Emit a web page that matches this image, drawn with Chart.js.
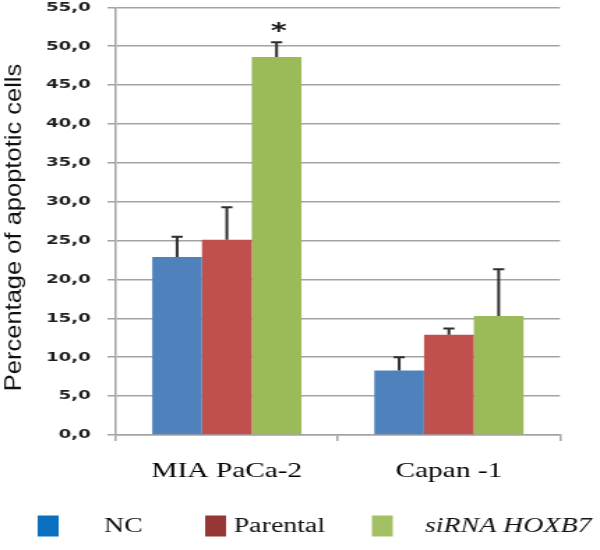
<!DOCTYPE html>
<html>
<head>
<meta charset="utf-8">
<script src="https://cdn.jsdelivr.net/npm/chart.js@4.4.1/dist/chart.umd.min.js"></script>
<style>
  html, body { margin: 0; padding: 0; background: #ffffff; }
  canvas { display: block; }
</style>
</head>
<body>
<canvas id="c" width="430" height="550" style="width:600px;height:550px"></canvas>
<script>
// ---------- data ----------
const categories = ['MIA PaCa-2', 'Capan -1'];
const seriesNames = ['NC', 'Parental', 'siRNA HOXB7'];
const ncValues = [22.9, 8.3];
const ncErrors = [2.6, 1.7];
const parentalValues = [25.1, 12.9];
const parentalErrors = [4.2, 0.8];
const sirnaValues = [48.6, 15.3];
const sirnaErrors = [1.9, 6.0];
const sirnaMarks = ['*', ''];
const yMin = 0;
const yMax = 55;
const yStep = 5;
const yTitle = 'Percentage of apoptotic cells';

// ---------- styles / layout ----------
const STRETCH = 600 / 430;          // the reference is horizontally stretched
const barColors = ['#4f81bd', '#c0504d', '#9bbb59'];
const legendColors = ['#0b6fc0', '#953735', '#a3c164'];
const gridColor = '#a3a3a3';
const errColor = '#2e2e2e';
const legendBoxX = [27, 147, 266.5];
const legendTextX = [74.5, 167.5, 304.5];
const legendCenterY = 526;
const legendItalic = [false, false, true];

const errorBarPlugin = {
  id: 'errorBars',
  afterDatasetsDraw(chart) {
    const ctx = chart.ctx;
    const ys = chart.scales.y;
    chart.data.datasets.forEach((ds, di) => {
      const meta = chart.getDatasetMeta(di);
      meta.data.forEach((bar, i) => {
        const err = ds.errors[i];
        const top = ys.getPixelForValue(ds.data[i] + err);
        ctx.save();
        ctx.strokeStyle = errColor;
        ctx.lineWidth = 2;
        ctx.beginPath();
        ctx.moveTo(bar.x, bar.y);
        ctx.lineTo(bar.x, top);
        ctx.moveTo(bar.x - 4, top);
        ctx.lineTo(bar.x + 4, top);
        ctx.stroke();
        if (ds.marks && ds.marks[i]) {
          ctx.fillStyle = '#1a1a1a';
          ctx.font = 'bold 22px "DejaVu Sans"';
          ctx.textAlign = 'center';
          ctx.textBaseline = 'alphabetic';
          const m = ctx.measureText(ds.marks[i]);
          const off = (m.actualBoundingBoxAscent - m.actualBoundingBoxDescent) / 2;
          ctx.fillText(ds.marks[i], bar.x + 1.5, top - 15 + off);
        }
        ctx.restore();
      });
    });
  }
};

const decorPlugin = {
  id: 'decor',
  afterDraw(chart) {
    const ctx = chart.ctx;
    // y-axis title (un-stretched horizontally)
    ctx.save();
    ctx.translate(15 / STRETCH, 227.5);
    ctx.scale(0.92 / STRETCH, 1);
    ctx.rotate(-Math.PI / 2);
    ctx.fillStyle = '#111111';
    ctx.font = '25.5px "Liberation Sans", Arial, sans-serif';
    ctx.textAlign = 'center';
    ctx.textBaseline = 'middle';
    ctx.fillText(yTitle, 0, 0);
    ctx.restore();

    // legend
    ctx.save();
    chart.data.datasets.forEach((ds, i) => {
      ctx.fillStyle = legendColors[i];
      ctx.fillRect(legendBoxX[i], legendCenterY - 10.5, 15, 21);
      ctx.fillStyle = '#111111';
      ctx.font = (legendItalic[i] ? 'italic ' : '') + '20px "Liberation Serif", "Times New Roman", serif';
      ctx.textAlign = 'left';
      ctx.textBaseline = 'middle';
      ctx.fillText(ds.label, legendTextX[i], legendCenterY + 1);
    });
    ctx.restore();
  }
};

const fmt = v => v.toFixed(1).replace('.', ',');

new Chart(document.getElementById('c'), {
  type: 'bar',
  data: {
    labels: categories,
    datasets: [
      { label: seriesNames[0], data: ncValues, errors: ncErrors, backgroundColor: barColors[0] },
      { label: seriesNames[1], data: parentalValues, errors: parentalErrors, backgroundColor: barColors[1] },
      { label: seriesNames[2], data: sirnaValues, errors: sirnaErrors, marks: sirnaMarks, backgroundColor: barColors[2] }
    ]
  },
  options: {
    responsive: false,
    animation: false,
    devicePixelRatio: 1,
    layout: { padding: { top: 0, right: 28.7, left: 0, bottom: 0 } },
    datasets: { bar: { categoryPercentage: 0.672, barPercentage: 1.0, borderWidth: 0 } },
    plugins: { legend: { display: false }, tooltip: { enabled: false } },
    scales: {
      x: {
        afterFit(scale) { scale.height = 115; scale.paddingLeft = 0; scale.paddingRight = 0; },
        grid: { offset: true, drawOnChartArea: false, drawTicks: true, tickLength: 6, color: gridColor, lineWidth: 1.5 },
        border: { color: gridColor, width: 1.5 },
        ticks: {
          color: '#000000',
          padding: 18,
          font: { family: '"Liberation Serif", "Times New Roman", serif', size: 21 }
        }
      },
      y: {
        min: yMin,
        max: yMax,
        afterFit(scale) { scale.width = 83; scale.paddingTop = 7.3; scale.paddingBottom = 0; },
        grid: { color: gridColor, lineWidth: 1.5, drawTicks: true, tickLength: 6 },
        border: { color: gridColor, width: 1.5 },
        ticks: {
          stepSize: yStep,
          padding: 12,
          color: '#1e1e1e',
          font: { family: '"DejaVu Sans", Verdana, sans-serif', size: 13, weight: 'bold' },
          callback: v => fmt(v)
        }
      }
    }
  },
  plugins: [errorBarPlugin, decorPlugin]
});
</script>
</body>
</html>
